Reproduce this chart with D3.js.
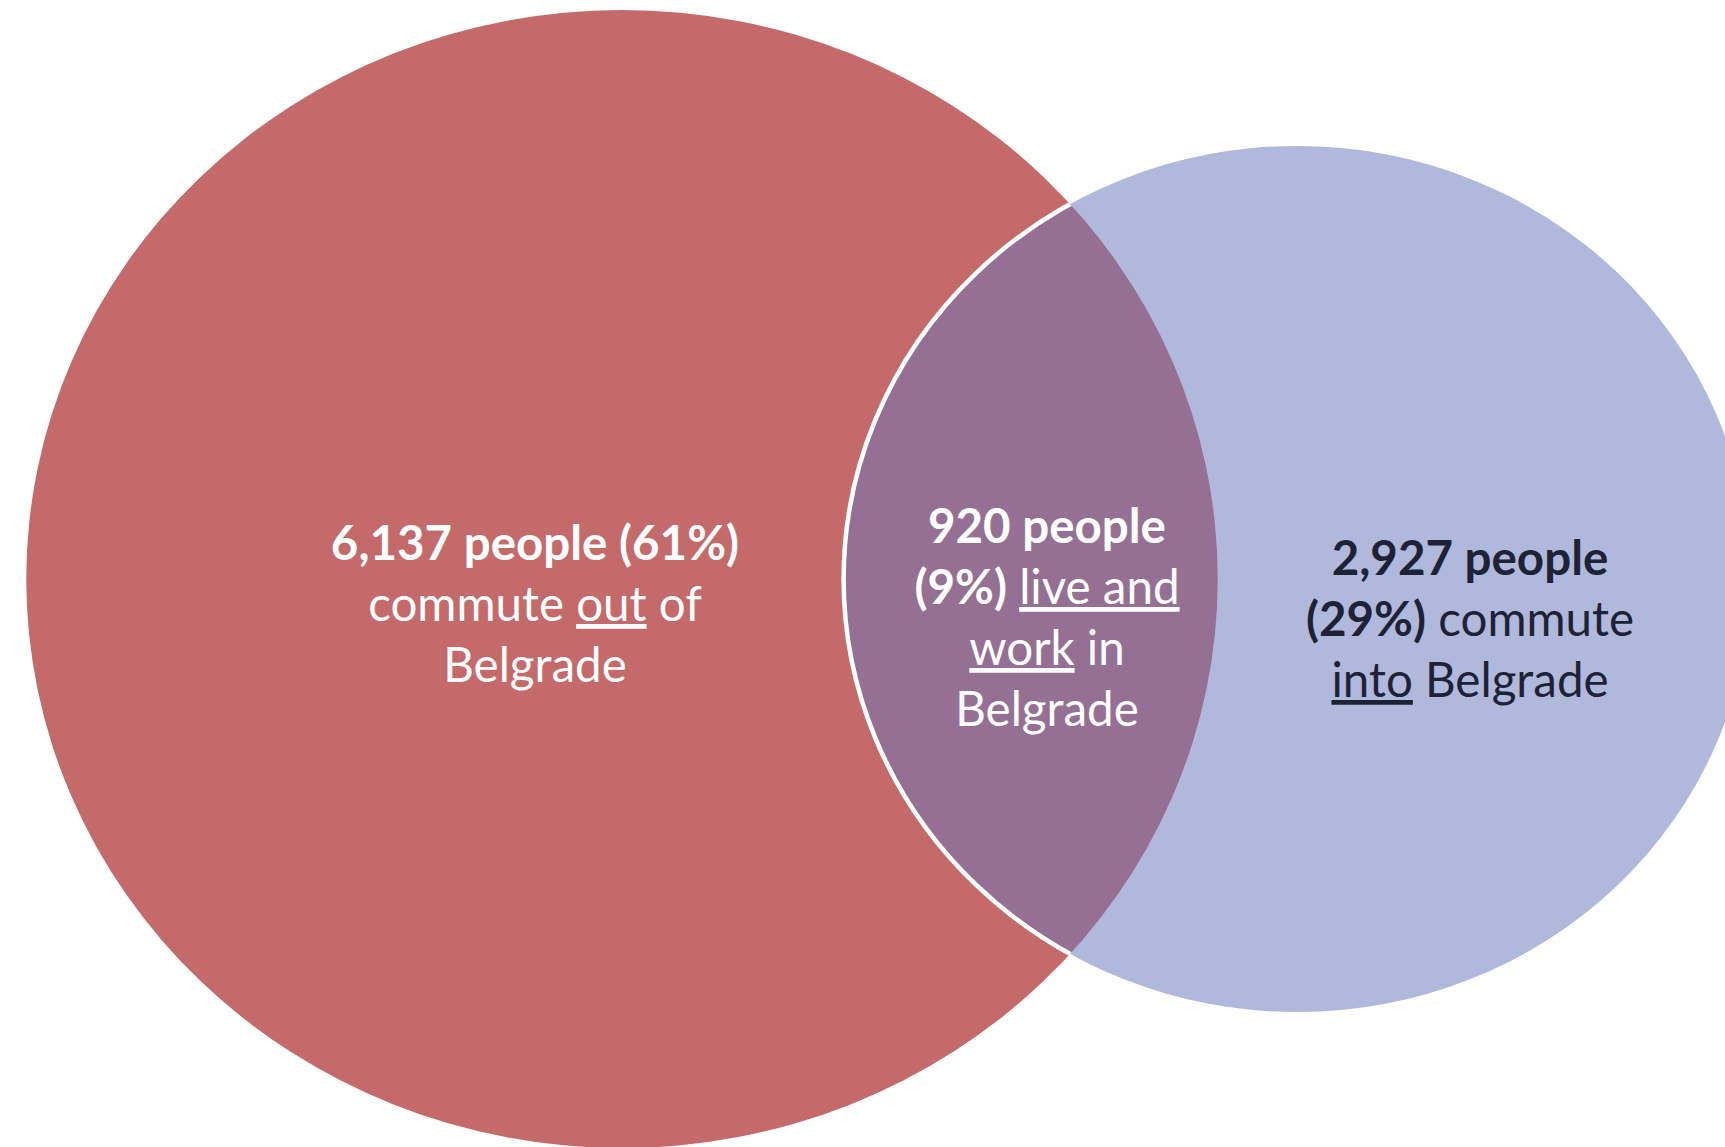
<!DOCTYPE html>
<html>
<head>
<meta charset="utf-8">
<script src="https://cdn.jsdelivr.net/npm/d3@7"></script>
<style>
    html, body { margin: 0; padding: 0; background: #fff; }
    #boxVenn { width: 1725px; height: 1147px; overflow: hidden; }
    text { font-family: Lato, "Noto Sans", sans-serif; white-space: pre; }
</style>
</head>
<body>
<div id="boxVenn"></div>
<script>

// counts
var groups = ["commute out", "live and work", "commute into"];
var counts = [6137, 920, 2927];
var shares = [61, 9, 29];

var colorOut = "#C46A6A";
var colorIn = "#B0B8DC";
var colorBoth = "#957094";

draw();

function draw() {

    var w = document.getElementById("boxVenn").offsetWidth;
    var h = document.getElementById("boxVenn").offsetHeight;

    // the source picture is stretched a little sideways
    var stretch = 1.047;
    var cy = 579;

    // each circle holds its own people plus the shared ones
    var totals = [counts[0] + counts[1], counts[2] + counts[1]];

    var rScale = d3.scalePow()
        .exponent(0.45)
        .domain([0, d3.max(totals)])
        .range([0, 569]);

    var circles = [
        { name: groups[0], cx: 622, r: rScale(totals[0]), color: colorOut },
        { name: groups[2], cx: 1297, r: rScale(totals[1]), color: colorIn }
    ];

    var svg = d3.select("#boxVenn")
        .append("svg")
        .attr("width", w)
        .attr("height", h);

    var defs = svg.append("defs");

    defs.append("clipPath")
        .attr("id", "clipOut")
        .append("ellipse")
        .attr("cx", circles[0].cx)
        .attr("cy", cy)
        .attr("rx", circles[0].r * stretch)
        .attr("ry", circles[0].r);

    svg.append("g")
        .attr("class", "circles")
        .selectAll("ellipse")
        .data(circles)
        .enter().append("ellipse")
        .attr("cx", d => d.cx)
        .attr("cy", cy)
        .attr("rx", d => d.r * stretch)
        .attr("ry", d => d.r)
        .style("fill", d => d.color);

    // overlap: the blue circle clipped to the red one
    var both = svg.append("g").attr("clip-path", "url(#clipOut)");

    both.append("ellipse")
        .attr("cx", circles[1].cx)
        .attr("cy", cy)
        .attr("rx", circles[1].r * stretch)
        .attr("ry", circles[1].r)
        .style("fill", colorBoth);

    both.append("ellipse")
        .attr("cx", circles[1].cx)
        .attr("cy", cy)
        .attr("rx", circles[1].r * stretch)
        .attr("ry", circles[1].r)
        .style("fill", "none")
        .style("stroke", "white")
        .style("stroke-width", 4.5);

    var fmt = d3.format(",");
    var head = i => `${fmt(counts[i])} people (${shares[i]}%)`;

    // lines of each label, split into pieces (b = bold, u = underline)
    var labels = [
        {
            x: 535, y: 560, color: "white",
            lines: [
                [{ t: head(0), b: true }],
                [{ t: "commute " }, { t: "out", u: true }, { t: " of" }],
                [{ t: "Belgrade" }]
            ]
        },
        {
            x: 1047, y: 543, color: "white",
            lines: [
                [{ t: `${counts[1]} people`, b: true }],
                [{ t: `(${shares[1]}%)`, b: true }, { t: " " }, { t: "live and", u: true }],
                [{ t: "work", u: true }, { t: " in" }],
                [{ t: "Belgrade" }]
            ]
        },
        {
            x: 1470, y: 575, color: "#1E2236",
            lines: [
                [{ t: `${fmt(counts[2])} people`, b: true }],
                [{ t: `(${shares[2]}%)`, b: true }, { t: " commute" }],
                [{ t: "into", u: true }, { t: " Belgrade" }]
            ]
        }
    ];

    var lineHeight = 61;

    var text = svg.append("g")
        .attr("class", "labels")
        .selectAll("text")
        .data(labels)
        .enter().append("text")
        .attr("text-anchor", "middle")
        .style("font-size", "47.5px")
        .style("fill", d => d.color);

    text.each(function(d) {
        var t = d3.select(this);
        d.lines.forEach((line, li) => {
            line.forEach((piece, pi) => {
                var s = t.append("tspan").text(piece.t);
                if (pi === 0) {
                    s.attr("x", d.x).attr("y", d.y + li * lineHeight);
                }
                s.style("font-weight", piece.b ? 700 : 400);
                if (piece.u) {
                    s.style("text-decoration", "underline");
                }
            });
        });
    });
}
</script>
</body>
</html>
